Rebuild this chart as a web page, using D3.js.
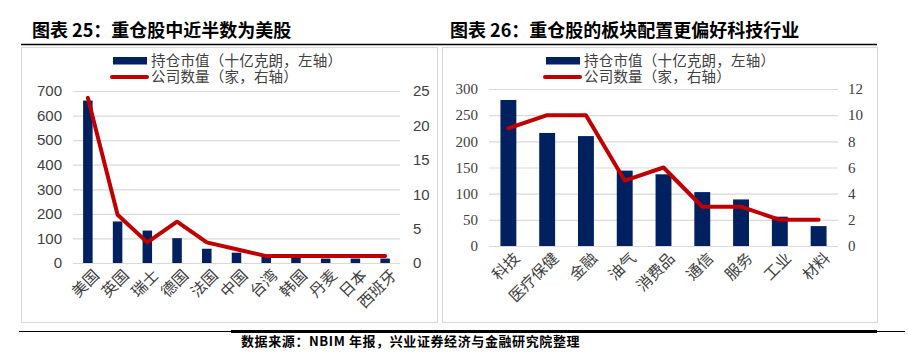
<!DOCTYPE html>
<html>
<head>
<meta charset="utf-8">
<script src="https://cdn.jsdelivr.net/npm/d3@7"></script>
<style>
	body { margin: 0; background: #fff; }
	svg { display: block; }
	.title { font-family: "Noto Sans CJK SC", sans-serif; font-weight: bold; font-size: 18px; fill: #000; }
	.legend text { font-family: "Noto Sans CJK SC", sans-serif; font-size: 14.5px; letter-spacing: 0.2px; fill: #404040; }
	.cat text { font-family: "Noto Sans CJK SC", sans-serif; font-size: 15.5px; fill: #404040; }
	.source { font-family: "Noto Sans CJK SC", sans-serif; font-weight: bold; font-size: 13px; letter-spacing: 0.6px; fill: #000; }
</style>
</head>
<body>
<svg id="chart" width="908" height="364"></svg>
<script>
// chart 25: holdings by country
var countryCats = ["美国", "英国", "瑞士", "德国", "法国", "中国", "台湾", "韩国", "丹麦", "日本", "西班牙"];
var countryValue = [661, 169, 132, 101, 58, 42, 25, 23, 18, 18, 18];
var countryCount = [24, 7, 3, 6, 3, 2, 1, 1, 1, 1, 1];
var countryLeftTicks = [0, 100, 200, 300, 400, 500, 600, 700];
var countryRightTicks = [0, 5, 10, 15, 20, 25];

// chart 26: holdings by sector
var sectorCats = ["科技", "医疗保健", "金融", "油气", "消费品", "通信", "服务", "工业", "材料"];
var sectorValue = [279, 216, 210, 144, 137, 103, 89, 56, 38];
var sectorCount = [9, 10, 10, 5, 6, 3, 3, 2, 2];
var sectorLeftTicks = [0, 50, 100, 150, 200, 250, 300];
var sectorRightTicks = [0, 2, 4, 6, 8, 10, 12];

var legendNames = ["持仓市值（十亿克朗，左轴）", "公司数量（家，右轴）"];

var barColor = "#002060",
	lineColor = "#C00000",
	gridColor = "#d9d9d9",
	tickColor = "#404040";

var svg = d3.select("#chart");
svg.append("rect").attr("width", 908).attr("height", 364).attr("fill", "#fff");

function panel(opt){
	var g = svg.append("g");

	// title
	g.append("text")
		.attr("class", "title")
		.attr("x", opt.titleX)
		.attr("y", 37)
		.text(opt.title);

	// frame
	g.append("rect")
		.attr("x", opt.box[0] + 0.5)
		.attr("y", 47.5)
		.attr("width", opt.box[1] - opt.box[0])
		.attr("height", 275)
		.attr("fill", "none")
		.attr("stroke", "#d9d9d9")
		.attr("stroke-width", 1.2);

	var x = d3.scaleBand()
		.domain(opt.cats)
		.range([opt.plot.left, opt.plot.right])
		.paddingInner(opt.pad)
		.paddingOuter(opt.pad / 2);

	var yL = d3.scaleLinear()
		.domain([0, d3.max(opt.leftTicks)])
		.range([opt.plot.bottom, opt.plot.top]);

	var yR = d3.scaleLinear()
		.domain([0, d3.max(opt.rightTicks)])
		.range([opt.plot.bottom, opt.plot.top]);

	// grid
	g.append("g")
		.attr("transform", "translate(" + opt.plot.left + ",0)")
		.call(d3.axisLeft(yL).tickValues(opt.leftTicks)
			.tickSize(-(opt.plot.right - opt.plot.left)).tickFormat(""))
		.call(function(s){
			s.select(".domain").remove();
			s.selectAll("line").attr("stroke", gridColor).attr("stroke-width", 1.2);
		});

	// left axis
	g.append("g")
		.attr("transform", "translate(" + opt.plot.left + ",0)")
		.call(d3.axisLeft(yL).tickValues(opt.leftTicks).tickSize(0).tickPadding(opt.lPad))
		.call(function(s){
			s.select(".domain").remove();
			s.selectAll("text")
				.attr("fill", tickColor)
				.style("font-family", opt.numFont)
				.style("font-size", "15px");
		});

	// right axis
	g.append("g")
		.attr("transform", "translate(" + opt.plot.right + ",0)")
		.call(d3.axisRight(yR).tickValues(opt.rightTicks).tickSize(0).tickPadding(opt.rPad))
		.call(function(s){
			s.select(".domain").remove();
			s.selectAll("text")
				.attr("fill", tickColor)
				.style("font-family", opt.numFont)
				.style("font-size", "15px");
		});

	// bars
	g.append("g").selectAll("rect")
		.data(opt.cats)
		.enter().append("rect")
		.attr("x", function(d){ return x(d); })
		.attr("y", function(d, i){ return yL(opt.values[i]); })
		.attr("width", x.bandwidth())
		.attr("height", function(d, i){ return yL(0) - yL(opt.values[i]); })
		.attr("fill", barColor);

	// line
	var line = d3.line()
		.x(function(d, i){ return x(opt.cats[i]) + x.bandwidth() / 2; })
		.y(function(d){ return yR(d); });

	g.append("path")
		.datum(opt.counts)
		.attr("d", line)
		.attr("fill", "none")
		.attr("stroke", lineColor)
		.attr("stroke-width", 4)
		.attr("stroke-linecap", "round")
		.attr("stroke-linejoin", "round");

	// category labels
	var cat = g.append("g")
		.attr("class", "cat")
		.attr("transform", "translate(0," + (opt.plot.bottom + 8) + ")")
		.call(d3.axisBottom(x).tickSize(0).tickPadding(0))
		.call(function(s){ s.select(".domain").remove(); });
	cat.selectAll("text")
		.attr("fill", tickColor)
		.attr("text-anchor", "end")
		.attr("dy", "0.8em")
		.attr("transform", "rotate(-45) translate(5,0)");
	cat.attr("font-family", null).attr("font-size", null);

	// legend: one text block, one line per series
	var lg = g.append("g").attr("class", "legend");
	lg.append("rect")
		.attr("x", opt.legendX)
		.attr("y", 57)
		.attr("width", 34)
		.attr("height", 7.5)
		.attr("fill", barColor);
	lg.append("line")
		.attr("x1", opt.legendX - 1)
		.attr("x2", opt.legendX + 34)
		.attr("y1", 77)
		.attr("y2", 77)
		.attr("stroke", lineColor)
		.attr("stroke-width", 4)
		.attr("stroke-linecap", "round");
	lg.append("text")
		.attr("y", 60.5)
		.selectAll("tspan")
		.data(legendNames)
		.enter().append("tspan")
		.attr("x", opt.legendX + 38)
		.attr("y", function(d, i){ return 60.5 + i * 16.5; })
		.attr("dy", "0.35em")
		.text(function(d){ return d; });
}

panel({
	title: "图表 25：重仓股中近半数为美股",
	titleX: 32,
	box: [21, 437],
	plot: { left: 73, right: 400, top: 91, bottom: 263 },
	pad: 0.68,
	lPad: 11,
	rPad: 13,
	numFont: "Liberation Sans, Arial, sans-serif",
	cats: countryCats,
	values: countryValue,
	counts: countryCount,
	leftTicks: countryLeftTicks,
	rightTicks: countryRightTicks,
	legendX: 113
});

panel({
	title: "图表 26：重仓股的板块配置更偏好科技行业",
	titleX: 450,
	box: [442, 877],
	plot: { left: 489, right: 838, top: 89, bottom: 246 },
	pad: 0.59,
	lPad: 11,
	rPad: 10,
	numFont: "Liberation Serif, Times New Roman, serif",
	cats: sectorCats,
	values: sectorValue,
	counts: sectorCount,
	leftTicks: sectorLeftTicks,
	rightTicks: sectorRightTicks,
	legendX: 546
});

// rules under titles and at the foot
svg.append("line")
	.attr("x1", 21).attr("x2", 877)
	.attr("y1", 44.5).attr("y2", 44.5)
	.attr("stroke", "#000").attr("stroke-width", 1.5);

svg.append("line")
	.attr("x1", 19).attr("x2", 905)
	.attr("y1", 331.5).attr("y2", 331.5)
	.attr("stroke", "#000").attr("stroke-width", 1.2);
svg.append("line")
	.attr("x1", 231).attr("x2", 877)
	.attr("y1", 331.5).attr("y2", 331.5)
	.attr("stroke", "#000").attr("stroke-width", 3);

svg.append("text")
	.attr("class", "source")
	.attr("x", 241)
	.attr("y", 346)
	.text("数据来源：NBIM 年报，兴业证券经济与金融研究院整理");
</script>
</body>
</html>
